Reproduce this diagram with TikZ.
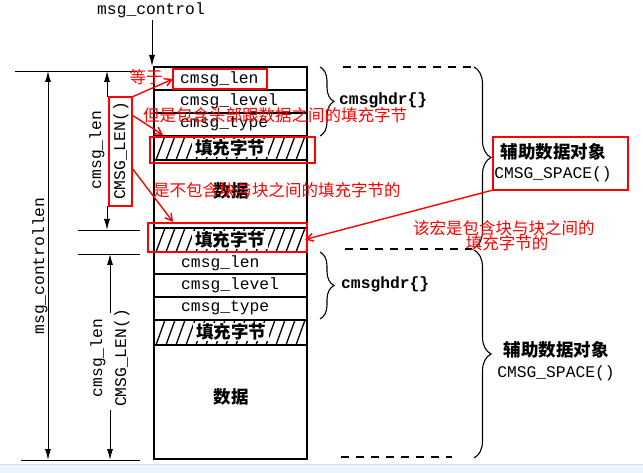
\documentclass[tikz,border=0pt]{standalone}
\usepackage{fontspec}
\setmonofont{Liberation Mono}
\newfontfamily\cjk{Noto Sans CJK SC}
\usetikzlibrary{arrows.meta,decorations.pathreplacing}
\definecolor{stripblue}{HTML}{EAF4FC}
\definecolor{annred}{HTML}{FF0000}
\tikzset{
  mono/.style={font=\ttfamily\fontsize{16.3}{18}\selectfont, inner sep=0pt},
  monob/.style={font=\ttfamily\bfseries\fontsize{16.3}{18}\selectfont, inner sep=0pt},
  cjkb/.style={font=\cjk\bfseries\fontsize{17.5}{19}\selectfont, inner sep=0pt},
  cell/.style={draw, line width=1.1pt, minimum width=153pt, inner sep=0pt, outer sep=0pt, anchor=north west},
  hatchline/.style={line width=1.3pt},
  padlabel/.style={cjkb, fill=white, inner xsep=3pt, inner ysep=1pt},
  redbox/.style={draw=annred, line width=1.8pt, inner sep=0pt, outer sep=0pt},
  redarrow/.style={draw=annred, line width=1.4pt, -{Straight Barb[length=7pt,width=8pt]}},
  redtext/.style={text=annred, font=\cjk\fontsize{16.5}{18}\selectfont, inner sep=0pt},
  dimarrow/.style={line width=0.9pt, {Latex[length=11pt,width=6pt]}-{Latex[length=11pt,width=6pt]}},
  dimhead/.style={line width=0.9pt, -{Latex[length=11pt,width=6pt]}},
  tickline/.style={line width=0.9pt},
  dashline/.style={line width=1.1pt, dash pattern=on 8pt off 7pt},
  bracesmall/.style={line width=1.1pt, decorate, decoration={brace, amplitude=14pt}},
  bracebig/.style={line width=1.1pt, decorate, decoration={brace, amplitude=17pt}}
}
\begin{document}
\begin{tikzpicture}[x=1pt,y=-1pt]
\useasboundingbox (0,0) rectangle (643,473);
\fill[white] (0,0) rectangle (643,473);
\fill[stripblue] (0,464) rectangle (643,473);
\draw[line width=0.5pt, stripblue!70!blue!40] (0,464) -- (643,464);

% ---------- top label and arrow ----------
\node[mono] (mc) at (151,10) {msg\_control};
\coordinate (mcStart) at (152,20);
\coordinate (mcTip) at (152,66);
\draw[dimhead] (mcStart) -- (mcTip);

% ---------- block 1 ----------
\node[cell, minimum height=23pt] (b1len) at (154,67) {};
\node[cell, minimum height=23pt] (b1lev) at (154,90) {};
\node[cell, minimum height=23pt] (b1typ) at (154,113) {};
\node[cell, minimum height=24pt] (b1pad) at (154,136) {};
\node[cell, minimum height=68pt] (b1dat) at (154,160) {};
\node[mono, anchor=west] (t1len) at (180,79) {cmsg\_len};
\node[mono, anchor=west] (t1lev) at (180,101) {cmsg\_level};
\node[mono, anchor=west] (t1typ) at (180,124) {cmsg\_type};
\begin{scope}
\clip (154,136) rectangle (307,160);
\foreach \x in {146,156,...,316} \draw[hatchline] (\x,160) -- (\x+9,136);
\end{scope}
\node[padlabel] (p1) at (230,148) {填充字节};
\node[cjkb] (d1) at (231,191) {数据};

% ---------- block 2 ----------
\node[cell, minimum height=24pt] (b2pad0) at (154,228) {};
\node[cell, minimum height=22pt] (b2len) at (154,252) {};
\node[cell, minimum height=23pt] (b2lev) at (154,274) {};
\node[cell, minimum height=23pt] (b2typ) at (154,297) {};
\node[cell, minimum height=25pt] (b2pad) at (154,320) {};
\node[cell, minimum height=114pt] (b2dat) at (154,345) {};
\begin{scope}
\clip (154,228) rectangle (307,252);
\foreach \x in {146,156,...,316} \draw[hatchline] (\x,252) -- (\x+9,228);
\end{scope}
\node[padlabel] (p0) at (230,240) {填充字节};
\node[mono, anchor=west] (t2len) at (181,263) {cmsg\_len};
\node[mono, anchor=west] (t2lev) at (181,285) {cmsg\_level};
\node[mono, anchor=west] (t2typ) at (181,308) {cmsg\_type};
\begin{scope}
\clip (154,320) rectangle (307,345);
\foreach \x in {146,156,...,316} \draw[hatchline] (\x,345) -- (\x+9,320);
\end{scope}
\node[padlabel] (p2) at (231,332) {填充字节};
\node[cjkb] (d2) at (231,397) {数据};

% ---------- dimension lines ----------
\coordinate (topA) at (15,71);
\coordinate (topB) at (137,71);
\draw[tickline] (topA) -- (topB);
\coordinate (botA) at (21,460);
\coordinate (botB) at (140,460);
\draw[tickline] (botA) -- (botB);
\coordinate (midA1) at (78,230);
\coordinate (midB1) at (140,230);
\draw[tickline] (midA1) -- (midB1);
\coordinate (midA2) at (78,254);
\coordinate (midB2) at (140,254);
\draw[tickline] (midA2) -- (midB2);

\coordinate (mclTop) at (48,71);
\coordinate (mclBot) at (48,460);
\draw[dimarrow] (mclTop) -- (mclBot);
\node[mono, rotate=90] (mcl) at (40,266) {msg\_controllen};

% upper cmsg_len
\coordinate (u1Top) at (107,71);
\coordinate (u1a) at (107,97);
\coordinate (u1b) at (107,206);
\coordinate (u1Bot) at (107,230);
\draw[dimhead] (u1a) -- (u1Top);
\draw[dimhead] (u1b) -- (u1Bot);
\node[mono, rotate=90] (u1l) at (97,150) {cmsg\_len};
\node[mono, rotate=90] (u1m) at (121,151) {CMSG\_LEN()};

% lower cmsg_len
\coordinate (u2Top) at (110,254);
\coordinate (u2a) at (110,313);
\coordinate (u2b) at (110,410);
\coordinate (u2Bot) at (110,460);
\draw[dimhead] (u2a) -- (u2Top);
\draw[dimhead] (u2b) -- (u2Bot);
\node[mono, rotate=90] (u2l) at (98,358) {cmsg\_len};
\node[mono, rotate=90] (u2m) at (122,358) {CMSG\_LEN()};

% ---------- braces ----------
\draw[bracesmall] (320,67) -- (320,136);
\node[monob, anchor=west] (h1) at (339,100) {cmsghdr\{\}};
\draw[bracesmall] (320,252) -- (320,319);
\node[monob, anchor=west] (h2) at (341,284) {cmsghdr\{\}};

\draw[dashline] (343,67) -- (472,67);
\draw[dashline] (345,249) -- (472,249);
\draw[dashline] (341,457) -- (452,457);
\draw[bracebig] (474,67) -- (474,248);
\draw[bracebig] (474,250) -- (474,458);

\node[cjkb] (aux1) at (553,152) {辅助数据对象};
\node[mono] (sp1) at (553,174) {CMSG\_SPACE()};
\node[cjkb] (aux2) at (556,350) {辅助数据对象};
\node[mono] (sp2) at (556,373) {CMSG\_SPACE()};

% ---------- red annotations ----------
\node[redbox, minimum width=94pt, minimum height=20pt] (rlen) at (220,79) {};
\node[redbox, minimum width=165pt, minimum height=26pt] (rpad1) at (232.5,150) {};
\node[redbox, minimum width=159pt, minimum height=29pt] (rpad2) at (227.5,237.5) {};
\node[redbox, minimum width=23pt, minimum height=109pt] (clbox) at (120.5,151.5) {};
\node[redbox, minimum width=135pt, minimum height=53pt] (rsp) at (560.5,163.5) {};

\node[redtext] (eq) at (146,77) {等于};
\node[redtext, anchor=west] (n1) at (143,115) {但是包含头部跟数据之间的填充字节};
\node[redtext, anchor=west] (n2) at (153,190) {是不包含块与块之间的填充字节的};
\node[redtext, anchor=west] (n3) at (413,228) {该宏是包含块与块之间的};
\node[redtext] (n4) at (507,243) {填充字节的};

\draw[redarrow] (clbox.north east) -- (rlen.west);
\draw[redarrow] ([yshift=-18pt]clbox.north east) -- ([xshift=13pt,yshift=2pt]rpad1.north west);
\draw[redarrow] ([yshift=-71pt]clbox.north east) -- ([xshift=25pt,yshift=1pt]rpad2.north west);
\draw[redarrow] (rsp.south west) -- ([xshift=-2pt,yshift=-2pt]rpad2.east);
\end{tikzpicture}
\end{document}
